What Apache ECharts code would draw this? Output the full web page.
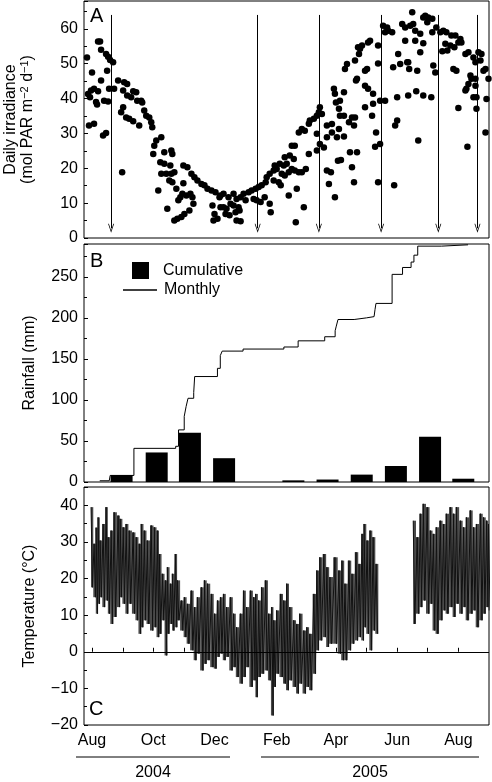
<!DOCTYPE html>
<html><head><meta charset="utf-8">
<script src="https://cdn.jsdelivr.net/npm/echarts@6/dist/echarts.min.js"></script>
<style>html,body{margin:0;padding:0;background:#fff}#c{width:492px;height:782px}</style>
</head><body><div id="c"></div>
<script>
// ---------- DATA (days counted from 1 Aug 2004) ----------
const monthNames = ['Jan','Feb','Mar','Apr','May','Jun','Jul','Aug','Sep','Oct','Nov','Dec'];
const yearLabels = ['2004','2005'];

// Panel A: daily irradiance [day, mol PAR m-2 d-1]
const irradiance = [
[-5,51.8],[6,56.4],[8,56.4],[9,54.0],[14,52.8],[16,52.0],[18,51.1],[21,50.4],[15,48.0],[0,47.5],[9,45.2],
[-4,41.3],[-1,42.3],[2,42.8],[6,42.1],[-2,40.4],[4,39.0],[5,38.3],[12,39.4],[16,39.2],[17,42.8],[22,42.8],
[-3,32.3],[2,32.8],[11,29.4],[14,30.1],[30,18.9],
[26,45.2],[32,44.7],[35,44.2],[31,42.3],[35,40.9],[39,40.4],[41,42.1],[44,41.8],[45,39.4],[49,39.4],[50,38.9],
[31,37.5],[29,36.1],[34,34.6],[37,34.2],[41,33.5],[47,32.3],[52,36.6],[54,35.1],[57,34.6],[59,33.2],[60,31.8],
[64,28.0],[62,26.5],[69,28.9],[61,24.1],[72,24.6],[79,25.1],[80,24.1],[68,21.7],[72,21.3],[78,20.8],
[69,18.4],[74,18.4],[79,18.4],[82,18.9],[77,16.5],[80,16.0],[66,13.6],[75,8.4],[84,14.1],
[82,5.0],[85,5.5],[89,6.0],[86,10.8],[88,11.7],[90,12.7],[94,12.2],[98,12.7],[100,11.7],[101,9.8],[97,7.9],[92,6.9],
[91,20.8],[95,20.3],[99,18.4],[102,17.4],[105,16.5],[109,15.5],[112,15.1],[115,14.1],[119,13.6],[123,13.1],[127,11.7],
[91,15.7],[120,9.3],[122,6.9],[121,5.0],[125,5.5],[128,8.8],
[128,12.2],[131,12.7],[136,11.7],[141,12.7],[144,11.2],[148,11.7],[151,12.7],[156,13.1],[159,13.6],[163,14.1],[166,14.6],[169,15.1],[173,16.0],
[131,8.8],[134,8.4],[138,9.8],[141,9.3],[133,6.9],[137,6.5],[143,7.4],[146,8.8],[147,7.9],[144,5.0],[148,4.8],
[153,10.8],[161,11.2],[164,10.8],[168,10.3],[172,11.7],[177,9.8],[178,7.4],
[174,17.4],[177,18.4],[181,19.4],[184,19.8],[182,20.8],[187,21.3],[191,20.8],[194,21.3],[192,23.2],[197,23.7],[201,22.7],
[181,16.5],[186,16.0],[188,15.1],[189,18.4],[192,17.9],[196,18.9],[199,19.8],[202,19.4],[206,18.9],
[196,12.2],[204,14.1],[211,8.8],[203,4.5],[216,24.1],[209,18.9],[213,19.8],[199,26.5],[202,26.5],
[206,30.3],[209,31.3],[212,30.8],[216,32.8],[217,33.7],[221,34.2],[224,35.1],[227,37.5],[226,36.1],[229,35.6],
[224,29.9],[224,25.1],[227,27.0],[231,26.0],[234,32.3],[239,32.7],[234,28.9],[239,30.3],[244,28.9],[246,31.3],[251,29.1],
[245,22.2],[248,22.4],[257,24.6],[259,20.3],[264,24.6],[261,16.0],[234,19.4],[238,18.9],[236,15.5],[242,11.7],
[241,42.8],[242,41.4],[243,38.9],[247,39.4],[251,41.8],[246,37.1],[247,35.1],[251,35.1],[256,33.2],[259,34.6],
[252,48.5],[254,49.9],[262,50.9],[264,45.7],[265,54.7],
[266,52.8],[267,54.3],[269,55.2],[275,56.1],[277,56.6],[263,45.2],[272,43.7],[275,42.8],[280,41.4],[287,39.4],[292,39.4],
[272,48.0],[274,48.5],[262,34.6],[261,32.3],[272,37.5],[279,35.1],[280,38.5],[283,30.3],[287,27.0],[282,26.2],[285,16.0],
[285,50.1],[285,55.2],[290,60.9],[294,60.4],[295,59.5],[292,59.0],[299,59.0],
[300,49.0],[304,33.7],[302,32.3],[305,52.8],[307,49.9],[312,56.6],[314,50.4],
[304,40.4],[315,40.9],[323,42.1],[330,40.9],[338,40.4],[301,15.1],[325,28.0],
[309,61.4],[312,60.4],[317,60.9],[320,61.4],[322,59.5],[327,58.6],[319,64.8],
[330,63.3],[332,63.8],[335,63.3],[339,62.9],[334,61.9],
[322,56.6],[330,55.9],[327,53.3],[315,50.4],[324,48.0],[316,48.5],[340,49.5],[342,47.5],
[339,59.0],[343,60.4],[347,59.0],[350,59.5],[353,59.0],[358,58.1],[362,58.1],[367,57.1],[368,56.1],
[352,55.7],[357,55.2],[354,53.8],[349,53.6],[361,54.7],[365,56.1],
[360,48.5],[363,48.0],[365,37.3],
[372,52.8],[375,53.3],[380,51.8],[382,50.4],[385,53.3],[388,52.8],[387,50.9],[390,48.0],[392,48.5],
[377,46.6],[378,45.7],[375,44.2],[373,42.8],[372,42.3],[382,45.7],
[380,40.4],[383,40.4],[393,39.9],[383,37.1],[374,26.2],[392,30.3],[395,45.7],[382,43.7]
];
const arrowDays = [19,165,226,288,345,384];

// Panel B: rainfall
const rainBars = [[20,8.5],[57,36],[92,60],[128,29],[165,0],[201,2],[237,3],[273,9],[309,19.5],[345,55],[380,4]];
const rainStep = [[-3,1.5],[7,2.5],[8,8],[33,41],[77,43.5],[80,63.5],[86,80],[88,92],[90,102],[96,109],[97,128.5],
[121,138.5],[124,154],[126,159.5],[148,162],[191,164.5],[206,172],[234,177],[245,184.3],[246,189],[248,198],
[265,200],[278,201.5],[286,202],[287,210],[288,217.6],[305,253],[316,261.4],[325,268],[328,276.4],[332,287.4],
[357,289],[385,289]];

// Panel C: temperature, daily maxima/minima samples
const tempDay = [-1,2,4,6,8,11,14,16,19,22,26,28,31,34,37,41,44,47,49,52,55,59,62,65,67,70,73,75,78,80,83,85,89,92,95,99,102,105,109,112,115,119,122,125,128,131,134,138,141,144,148,151,154,158,161,163,166,169,173,176,179,181,184,188,191,194,197,201,204,207,211,214,217,221,224,227,231,234,237,242,246,249,252,256,259,263,266,269,271,274,277,280,283,
320,324,327,330,334,337,340,343,347,350,353,357,360,363,367,370,373,377,380,383,387,390,393,395];
const tempMax = [39.5,29.5,33.9,36.7,30.4,34.9,39.5,31.3,33.1,38.1,37.2,36.3,34.0,34.9,33.1,32.6,31.3,29.5,34.9,33.1,30.4,34.5,34.0,33.1,26.7,21.3,19.5,23.1,18.6,21.3,26.7,19.5,14.0,14.9,13.1,16.7,12.2,14.9,17.6,19.5,18.6,15.8,10.4,14.0,14.9,15.8,12.2,14.9,10.4,6.7,10.4,16.7,12.2,16.7,14.9,15.8,14.0,17.6,19.5,10.4,12.2,8.6,11.3,15.8,14.0,18.6,12.2,8.6,7.6,10.4,5.8,6.7,4.9,15.8,22.2,25.8,26.7,23.1,20.4,25.8,22.2,24.9,18.6,24.9,21.3,27.2,24.0,32.2,34.9,30.4,33.1,31.3,24.0,
35.8,31.3,37.7,40.4,39.5,33.1,32.2,34.0,35.8,34.9,37.7,39.5,37.7,39.5,35.8,34.0,36.7,38.6,34.0,34.9,37.7,36.7,35.8,34.9];
const tempMin = [17.6,14.9,10.4,13.1,14.9,12.2,14.0,10.4,7.6,9.5,12.2,14.9,13.1,10.4,13.1,10.4,8.6,4.9,6.7,8.6,7.6,5.8,6.7,4.0,4.9,8.6,-1.0,4.9,7.6,5.8,6.7,8.6,5.8,4.0,2.2,0.4,-2.3,-0.5,-5.1,-3.3,-2.3,-4.2,-4.6,-1.4,-0.5,-2.3,-1.4,-5.1,-4.2,-6.9,-8.7,-6.9,-4.2,-9.6,-7.8,-12.4,-6.9,-6.0,-5.1,-7.8,-17.4,-9.6,-6.0,-6.9,-8.7,-10.5,-7.8,-9.6,-11.4,-8.7,-11.4,-9.6,-10.5,-6.0,0.4,3.1,4.0,1.3,2.2,2.2,-0.5,-2.3,-2.3,0.4,2.2,3.1,4.0,3.1,6.7,4.9,0.4,5.8,4.9,
7.6,10.4,12.2,14.0,10.4,13.1,5.8,4.9,8.6,11.3,10.4,12.2,9.5,13.1,10.4,12.2,8.6,10.4,11.3,6.7,8.6,10.4,12.2,11.3];
const tempGap = [284, 319]; // logger gap (no record)

// ---------- BUILD ----------
const DAY = 86400000;
const BASE = Date.UTC(2004, 7, 1);
const t = d => BASE + d * DAY;
const X_MIN = t(-8), X_MAX = t(395.5);
const FONT = 'Liberation Sans, Arial, Helvetica, sans-serif';

const irrData = irradiance.map(p => [t(p[0]), p[1]]);
const barData = rainBars.map(p => [t(p[0]), p[1]]);
const stepData = rainStep.map(p => [t(p[0]), p[1]]);
const tempData = [];
const bandData = [];
const bandEdges = []; // drawing extent of each sample (layout only)
const inGapBetween = (a, b) => a < tempGap[0] && b > tempGap[1];
for (let i = 0; i < tempDay.length; i++) {
  if (i > 0 && inGapBetween(tempDay[i - 1], tempDay[i])) tempData.push([t(tempGap[0]), null]);
  tempData.push([t(tempDay[i]), tempMax[i]]);
  tempData.push([t(tempDay[i] + 1.5), tempMin[i]]);
  bandData.push([t(tempDay[i] + 0.75), tempMin[i], tempMax[i]]);
  const prevOk = i > 0 && !inGapBetween(tempDay[i - 1], tempDay[i]);
  const nextOk = i < tempDay.length - 1 && !inGapBetween(tempDay[i], tempDay[i + 1]);
  const l = prevOk ? (tempDay[i - 1] + tempDay[i]) / 2 : tempDay[i] - 0.8;
  const r = nextOk ? (tempDay[i] + tempDay[i + 1]) / 2 : tempDay[i] + 1.5;
  bandEdges.push([t(l + 0.75), t(r + 0.75)]);
}

const arrowPath = 'path://M0,10L5,0L10,10L8.7,10L5,2.6L1.3,10Z';

const gridBase = {left: 84, width: 405, show: true, borderColor: '#000', borderWidth: 1, backgroundColor: 'transparent', containLabel: false, outerBoundsMode: 'none'};

function xAx(i, labels) {
  return {
    type: 'time', gridIndex: i, min: X_MIN, max: X_MAX,
    minInterval: 30 * DAY, maxInterval: 30 * DAY, splitNumber: 13,
    axisLine: {show: false}, splitLine: {show: false},
    axisTick: {show: labels, inside: true, length: 4, lineStyle: {color: '#000'}},
    axisLabel: {
      show: labels, margin: 8, fontSize: 16, color: '#000', fontFamily: FONT, hideOverlap: false,
      formatter: v => { const d = new Date(v); return (d.getUTCDate() === 1 && d.getUTCMonth() % 2 === 1) ? monthNames[d.getUTCMonth()] : ''; }
    }
  };
}
function yAx(i, min, max, interval, name, gap) {
  return {
    type: 'value', gridIndex: i, min, max, interval,
    name, nameLocation: 'middle', nameRotate: 90, nameGap: gap,
    nameTextStyle: {fontSize: 16, color: '#000', fontFamily: FONT, lineHeight: 17,
      rich: {a: {fontSize: 16, color: '#000', fontFamily: FONT, lineHeight: 17},
             s: {fontSize: 11, color: '#000', fontFamily: FONT, lineHeight: 8, verticalAlign: 'top'}}},
    axisLine: {show: false}, splitLine: {show: false}, minorSplitLine: {show: false},
    axisTick: {show: true, inside: true, length: 4, lineStyle: {color: '#000'}},
    minorTick: {show: true, splitNumber: 2, length: 3, lineStyle: {color: '#000'}},
    axisLabel: {fontSize: 16, color: '#000', fontFamily: FONT, margin: 6, showMaxLabel: false,
      formatter: v => String(v).replace('-', '\u2212')}
  };
}

const option = {
  animation: false,
  backgroundColor: '#fff',
  textStyle: {fontFamily: FONT},
  grid: [
    Object.assign({}, gridBase, {top: 1, height: 237}),
    Object.assign({}, gridBase, {top: 244, height: 238}),
    Object.assign({}, gridBase, {top: 487, height: 238})
  ],
  xAxis: [xAx(0, false), xAx(1, false), xAx(2, true)],
  yAxis: [
    yAx(0, 0, 68, 10, '{a|Daily irradiance}\n{a|(mol PAR m}{s|\u22122}{a| d}{s|\u22121}{a|)}', 48),
    yAx(1, 0, 290, 50, 'Rainfall (mm)', 46),
    yAx(2, -20, 45, 10, 'Temperature (\u00b0C)', 46)
  ],
  legend: [
    {data: [{name: 'Cumulative', icon: 'rect'}], left: 132, top: 262, padding: 0, itemWidth: 17, itemHeight: 17,
      selectedMode: false, textStyle: {fontSize: 16, color: '#000', fontFamily: FONT, padding: [0, 0, 0, 9]}},
    {data: [{name: 'Monthly', icon: 'rect'}], left: 123, top: 282, padding: 0, itemWidth: 34, itemHeight: 1.3,
      selectedMode: false, textStyle: {fontSize: 16, color: '#000', fontFamily: FONT, padding: [0, 0, 0, 2]}}
  ],
  graphic: [
    {type: 'text', left: 90, top: 6, style: {text: 'A', fontSize: 20, fill: '#000', fontFamily: FONT}},
    {type: 'text', left: 90, top: 251, style: {text: 'B', fontSize: 20, fill: '#000', fontFamily: FONT}},
    {type: 'text', left: 89, top: 699, style: {text: 'C', fontSize: 20, fill: '#000', fontFamily: FONT}},
    {type: 'line', shape: {x1: 76, y1: 757, x2: 230, y2: 757}, style: {stroke: '#000', lineWidth: 1}},
    {type: 'line', shape: {x1: 261, y1: 757, x2: 479, y2: 757}, style: {stroke: '#000', lineWidth: 1}},
    {type: 'text', x: 153, y: 773, style: {text: yearLabels[0], fontSize: 16, fill: '#000', fontFamily: FONT, align: 'center', verticalAlign: 'middle'}},
    {type: 'text', x: 370, y: 773, style: {text: yearLabels[1], fontSize: 16, fill: '#000', fontFamily: FONT, align: 'center', verticalAlign: 'middle'}}
  ],
  series: [
    {type: 'scatter', name: 'Irradiance', xAxisIndex: 0, yAxisIndex: 0, data: irrData, symbolSize: 6.5,
      itemStyle: {color: '#000', opacity: 1},
      markLine: {silent: true, symbol: ['none', arrowPath], symbolSize: [6, 9], label: {show: false},
        lineStyle: {color: '#000', width: 1, type: 'solid'}, emphasis: {disabled: true},
        data: arrowDays.map(d => [{coord: [t(d), 64]}, {coord: [t(d), 2.8]}])}},
    {type: 'bar', name: 'Cumulative', xAxisIndex: 1, yAxisIndex: 1, data: barData, barWidth: 22,
      itemStyle: {color: '#000'}},
    {type: 'line', name: 'Monthly', xAxisIndex: 1, yAxisIndex: 1, data: stepData, step: 'end', symbol: 'none',
      color: '#000', lineStyle: {color: '#000', width: 1}},
    {type: 'custom', name: 'TempBand', xAxisIndex: 2, yAxisIndex: 2, data: bandData, clip: true,
      encode: {x: 0, y: [1, 2]},
      renderItem: (params, api) => {
        const e = bandEdges[params.dataIndex];
        const lo = api.coord([e[0], api.value(1)]);
        const hi = api.coord([e[1], api.value(2)]);
        return {type: 'rect', shape: {x: lo[0], y: hi[1], width: hi[0] - lo[0], height: lo[1] - hi[1]},
          style: {fill: '#4a4a4a'}};
      }},
    {type: 'line', name: 'Temperature', xAxisIndex: 2, yAxisIndex: 2, data: tempData, symbol: 'none',
      connectNulls: false, color: '#111', lineStyle: {color: '#111', width: 1},
      markLine: {silent: true, symbol: ['none', 'none'], label: {show: false},
        lineStyle: {color: '#000', width: 1, type: 'solid'}, data: [{yAxis: 0}]}}
  ]
};
const chart = echarts.init(document.getElementById('c'), null, {renderer: 'canvas'});
chart.setOption(option);
</script></body></html>
